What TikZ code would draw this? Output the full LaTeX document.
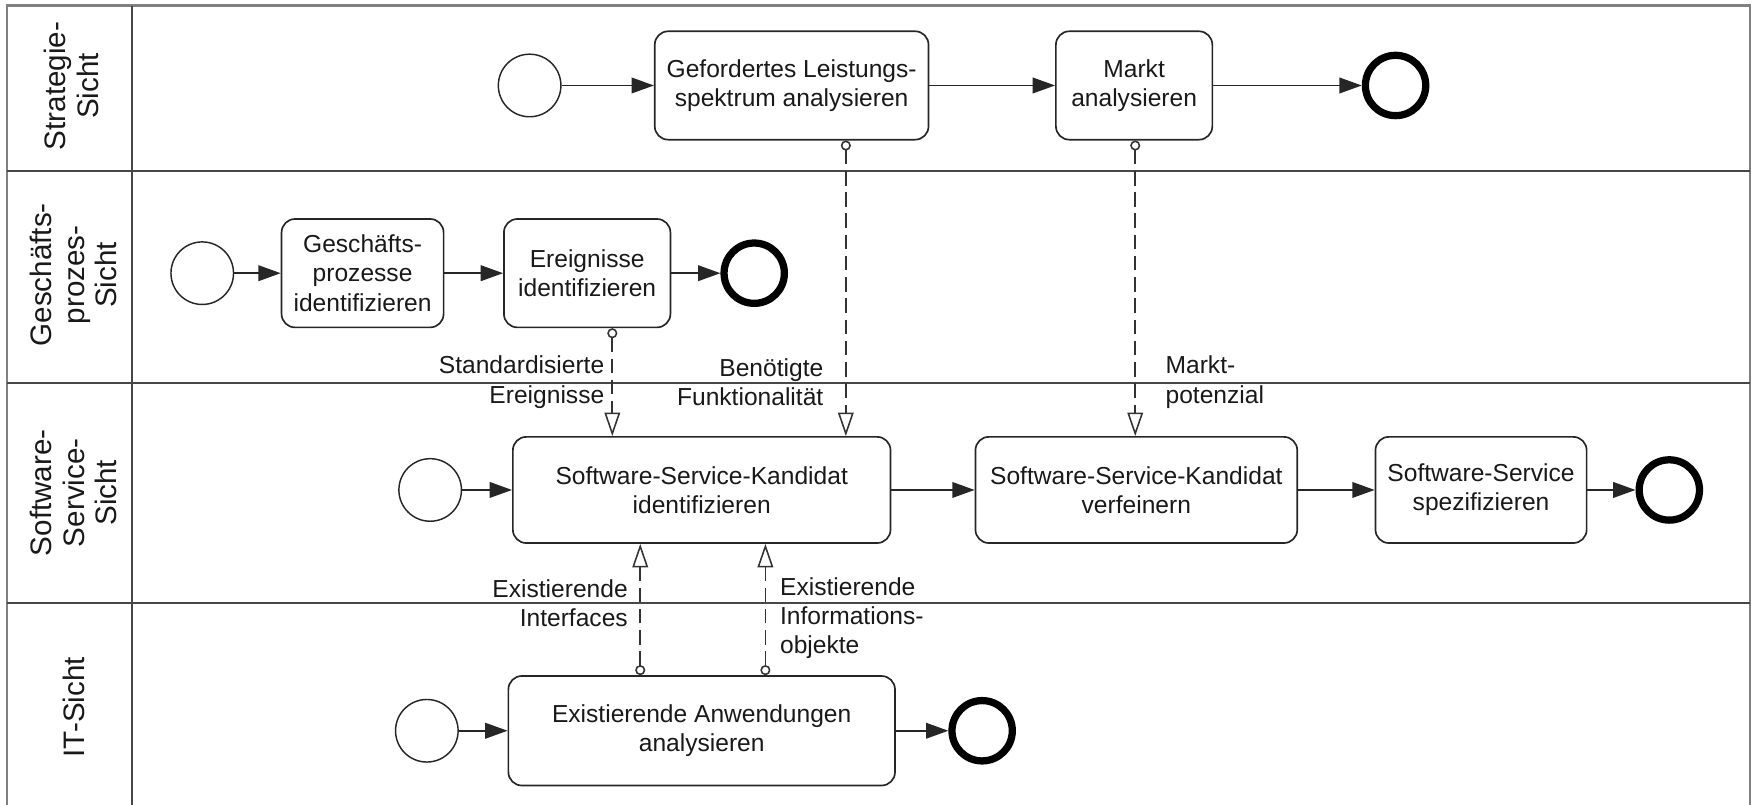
\documentclass[tikz,border=0pt]{standalone}
\usepackage{fontspec}
\setmainfont{Liberation Sans}
\usetikzlibrary{arrows.meta}
\begin{document}
\begin{tikzpicture}[x=1pt,y=-1pt,
  every node/.style={font=\fontsize{22}{26}\selectfont, text=black!90},
  frame/.style={draw=black!50, line width=2pt},
  sep/.style={draw=black!72, line width=1.8pt},
  lanelabel/.style={rotate=90, align=center, font=\fontsize{26.5}{29}\selectfont},
  task/.style={draw=black!85, line width=1.5pt, rounded corners=12pt, align=center, inner sep=0pt},
  startev/.style={circle, draw=black!85, line width=1.3pt, minimum size=56pt, inner sep=0pt},
  endev/.style={circle, draw=black, line width=6.5pt, minimum size=54pt, inner sep=0pt},
  flow/.style={draw=black!85, line width=1.5pt, -{Triangle[length=20pt,width=14pt]}},
  assoc/.style={draw=black!80, line width=1.5pt, dash pattern=on 13pt off 6pt,
    {Circle[open,length=9pt,width=9pt,fill=white,line width=1.4pt]}-{Triangle[open,length=21pt,width=14pt,fill=white,line width=1.4pt]}},
  flowlabel/.style={inner sep=0pt}
]
\useasboundingbox (0,0) rectangle (1568,720);

% pool frame and lanes
\draw[frame] (6.5,730) -- (6.5,5) -- (1566,5) -- (1566,730);
\draw[sep] (118,5) -- (118,730);
\draw[sep] (6.5,153) -- (1566,153);
\draw[sep] (6.5,343) -- (1566,343);
\draw[sep] (6.5,540) -- (1566,540);

\node[lanelabel] (l1) at (64,77) {Strategie-\\Sicht};
\node[lanelabel] (l2) at (66,246) {Geschäfts-\\prozes-\\Sicht};
\node[lanelabel] (l3) at (66,441) {Software-\\Service-\\Sicht};
\node[lanelabel] (l4) at (66,633) {IT-Sicht};

% Strategie-Sicht
\node[startev] (s1) at (474,76.5) {};
\node[task, minimum width=245pt, minimum height=97pt] (gef) at (708.5,76.5) {Gefordertes Leistungs-\\spektrum analysieren};
\node[task, minimum width=140pt, minimum height=97pt] (markt) at (1015,76.5) {Markt\\analysieren};
\node[endev] (e1) at (1249,76.5) {};
\draw[flow] (s1) -- (gef);
\draw[flow] (gef) -- (markt);
\draw[flow] (markt) -- (e1);

% Geschaeftsprozess-Sicht
\node[startev] (s2) at (181,244.5) {};
\node[task, minimum width=145pt, minimum height=97pt] (gp) at (324.5,244.5) {Geschäfts-\\prozesse\\identifizieren};
\node[task, minimum width=149pt, minimum height=97pt] (ereig) at (525.5,244.5) {Ereignisse\\identifizieren};
\node[endev] (e2) at (675,244.5) {};
\draw[flow] (s2) -- (gp);
\draw[flow] (gp) -- (ereig);
\draw[flow] (ereig) -- (e2);

% Software-Service-Sicht
\node[startev] (s3) at (385,438.5) {};
\node[task, minimum width=338pt, minimum height=95pt] (ssk) at (628,438.5) {Software-Service-Kandidat\\identifizieren};
\node[task, minimum width=288pt, minimum height=95pt] (ssv) at (1017,438.5) {Software-Service-Kandidat\\verfeinern};
\node[task, minimum width=189pt, minimum height=95pt] (sss) at (1325.5,438.5) {Software-Service\\spezifizieren};
\node[endev] (e3) at (1494,438.5) {};
\draw[flow] (s3) -- (ssk);
\draw[flow] (ssk) -- (ssv);
\draw[flow] (ssv) -- (sss);
\draw[flow] (sss) -- (e3);

% IT-Sicht
\node[startev] (s4) at (382,654) {};
\node[task, minimum width=346pt, minimum height=98pt] (ea) at (628,654) {Existierende Anwendungen\\analysieren};
\node[endev] (e4) at (879,654) {};
\draw[flow] (s4) -- (ea);
\draw[flow] (ea) -- (e4);

% associations between the lanes
\coordinate (xa) at (548,0);
\coordinate (xb) at (757,0);
\coordinate (xc) at (1016,0);
\coordinate (xd) at (573,0);
\coordinate (xe) at (685,0);
\draw[assoc] (xa |- ereig.south) -- (xa |- ssk.north);
\draw[assoc] (xb |- gef.south) -- (xb |- ssk.north);
\draw[assoc] (xc |- markt.south) -- (xc |- ssv.north);
\draw[assoc] (xd |- ea.north) -- (xd |- ssk.south);
\draw[assoc] (xe |- ea.north) -- (xe |- ssk.south);

\node[flowlabel, align=right, anchor=east] (la) at (541,342) {Standardisierte\\Ereignisse};
\node[flowlabel, align=right, anchor=east] (lb) at (737,342) {Benötigte\\Funktionalität};
\node[flowlabel, align=left, anchor=west] (lc) at (1043,342) {Markt-\\potenzial};
\node[flowlabel, align=right, anchor=east] (ld) at (562,540) {Existierende\\Interfaces};
\node[flowlabel, align=left, anchor=west] (le) at (698,553) {Existierende\\Informations-\\objekte};
\end{tikzpicture}
\end{document}
